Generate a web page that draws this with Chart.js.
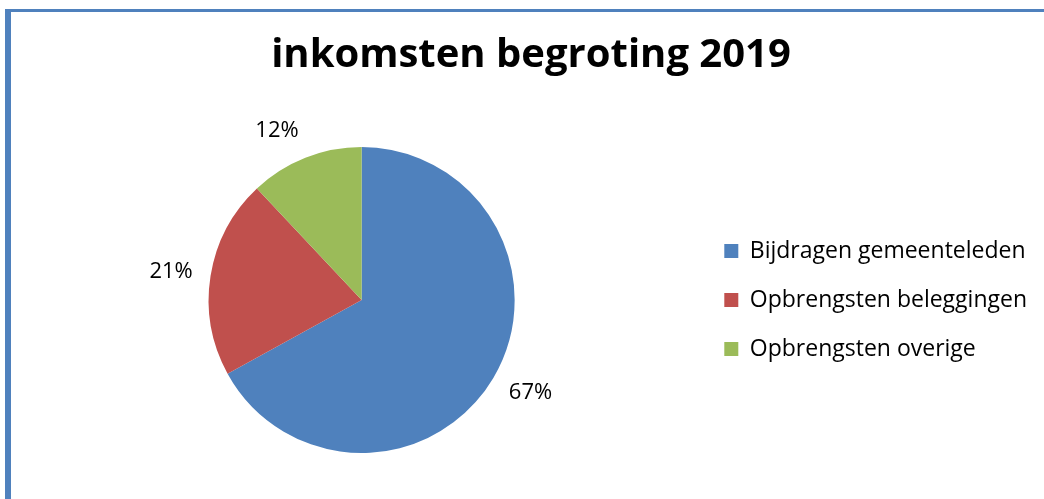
<!DOCTYPE html>
<html>
<head>
<meta charset="utf-8">
<script src="https://cdn.jsdelivr.net/npm/chart.js@4/dist/chart.umd.min.js"></script>
<style>
body{margin:0;background:#fff;overflow:hidden}
#frame{position:absolute;left:5px;top:9px;right:-10px;bottom:-10px;border-left:6px solid #4f81bd;border-top:3px solid #4f81bd}
#wrap{position:absolute;left:0;top:0;width:1044px;height:499px}
</style>
</head>
<body>
<div id="frame"></div>
<div id="wrap"><canvas id="pie"></canvas></div>
<script>
const categories = ["Bijdragen gemeenteleden", "Opbrengsten beleggingen", "Opbrengsten overige"]
const shares = [67, 21, 12]
const sliceColors = ["#4f81bd", "#c0504d", "#9bbb59"]

// percent labels just outside each slice, pushed away from the edge like Excel does
const outsideLabels = {
id: "outsideLabels",
afterDatasetsDraw(chart){
const ctx = chart.ctx
const meta = chart.getDatasetMeta(0)
ctx.save()
ctx.font = "22px 'Open Sans'"
ctx.fillStyle = "#000"
ctx.textAlign = "center"
ctx.textBaseline = "middle"
meta.data.forEach((arc, i) => {
const p = arc.getProps(["x","y","startAngle","endAngle","outerRadius"], true)
const mid = (p.startAngle + p.endAngle) / 2
const dx = Math.cos(mid), dy = Math.sin(mid)
const r = p.outerRadius + 18
const txt = shares[i] + "%"
const w = ctx.measureText(txt).width
const x = p.x + dx * r + Math.sign(dx) * w / 2
const y = p.y + dy * r + dy * 11
ctx.fillText(txt, x, y)
})
ctx.restore()
}
}

new Chart(document.getElementById("pie"), {
type: "pie",
data:{
labels: categories,
datasets:[{
data: shares,
backgroundColor: sliceColors,
borderWidth: 0
}]
},
options:{
responsive: true,
maintainAspectRatio: false,
animation: false,
layout:{ padding:{ top: 20, left: 25, right: 7, bottom: 46 } },
plugins:{
title:{
display: true,
text: "inkomsten begroting 2019",
color: "#000",
font:{ family: "'Open Sans'", size: 40, weight: "bold", lineHeight: 1.2 },
padding:{ top: 12, bottom: 67 }
},
legend:{
position: "right",
align: "center",
title:{ display: true, text: "", font:{ size: 10, lineHeight: 1.2 }, padding:{ top: 0, bottom: 115 } },
labels:{
boxWidth: 14,
boxHeight: 14,
padding: 26,
color: "#000",
font:{ family: "'Open Sans'", size: 23 }
}
},
tooltip:{ enabled: false }
}
},
plugins: [outsideLabels]
})
</script>
</body>
</html>
